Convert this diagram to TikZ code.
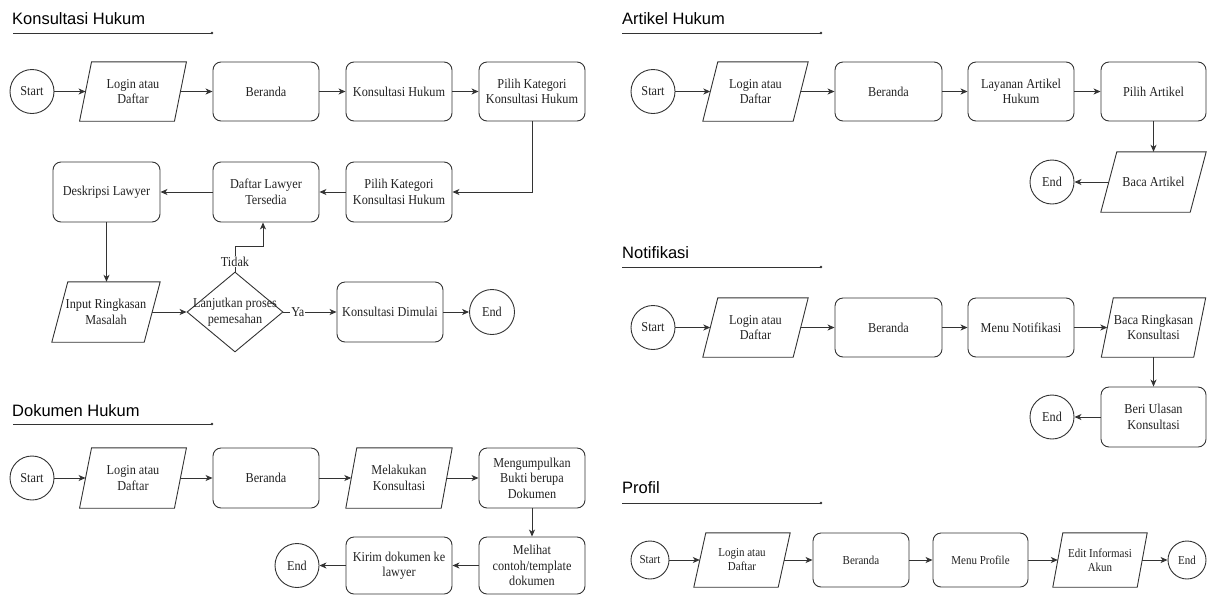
\documentclass[tikz,border=0pt]{standalone}
\usepackage{fontspec}
\setmainfont{Liberation Serif}[FakeStretch=0.9]
\newfontfamily\titlefont{Liberation Sans}
\usetikzlibrary{shapes.geometric,arrows.meta,calc}
\definecolor{ln}{HTML}{333333}
\definecolor{tx}{HTML}{222222}
\tikzset{
  nodefont/.style={font=\fontsize{13.6}{15.5}\selectfont, text=tx},
  smallfont/.style={font=\fontsize{12.2}{14}\selectfont, text=tx},
  base/.style={draw=ln, line width=0.9pt, nodefont, align=center, inner sep=1pt},
  rbox/.style={base, rectangle, rounded corners=8pt, minimum width=106pt, minimum height=59pt},
  circ/.style={base, circle, minimum size=44pt},
  parabox/.style={rectangle, nodefont, align=center, inner sep=1pt, minimum height=59pt},
  decbox/.style={draw=ln, line width=0.9pt, diamond, minimum width=96pt, minimum height=80pt, inner sep=0pt},
  arr/.style={draw=ln, line width=0.9pt, -{Stealth[length=7pt,width=6pt,inset=2pt]}},
  lbl/.style={fill=white, inner sep=1pt, nodefont},
  sectitle/.style={anchor=base west, font=\titlefont\fontsize{16.5}{20}\selectfont, inner sep=0pt, text=black},
  uline/.style={draw=ln, line width=0.9pt},
  paraline/.style={draw=ln, line width=0.9pt}
}
\newcommand\drawpara[2]{\draw[paraline] ($(#1.north west)+(#2/2,0)$) -- ($(#1.north east)+(#2/2,0)$) -- ($(#1.south east)-(#2/2,0)$) -- ($(#1.south west)-(#2/2,0)$) -- cycle;}
\newcommand\secline[2]{\draw[uline] (#1,#2) -- ++(199,0); \fill[ln] (#1+199,#2) circle (1.4);}
\begin{document}
\begin{tikzpicture}[x=1pt,y=-1pt]
\useasboundingbox (0,0) rectangle (1207,595);
% ================= Konsultasi Hukum =================
\node[sectitle] (tK) at (12,24) {Konsultasi Hukum};
\secline{13}{33}
\node[circ] (k1) at (32,91.5) {Start};
\node[parabox, minimum width=94.5pt] (k2) at (133,91.5) {Login atau\\Daftar};
\drawpara{k2}{12}
\node[rbox] (k3) at (266,91.5) {Beranda};
\node[rbox] (k4) at (399,91.5) {Konsultasi Hukum};
\node[rbox] (k5) at (532,91.5) {Pilih Kategori\\Konsultasi Hukum};
\node[rbox, minimum height=60pt] (k6) at (399,192) {Pilih Kategori\\Konsultasi Hukum};
\node[rbox, minimum height=60pt] (k7) at (266,192) {Daftar Lawyer\\Tersedia};
\node[rbox, minimum height=60pt, minimum width=107pt] (k8) at (106.5,192) {Deskripsi Lawyer};
\node[parabox, minimum width=92pt, minimum height=60pt] (k9) at (106,312) {Input Ringkasan\\Masalah};
\drawpara{k9}{16}
\node[decbox] (k10) at (235,312) {};
\node[nodefont, align=center, inner sep=0pt] (k10t) at (235,312) {Lanjutkan proses\\pemesahan};
\node[rbox, minimum height=60pt] (k11) at (390,312) {Konsultasi Dimulai};
\node[circ, minimum size=45pt] (k12) at (492,312) {End};
\draw[arr] (k1) -- (k2);
\draw[arr] (k2) -- (k3);
\draw[arr] (k3) -- (k4);
\draw[arr] (k4) -- (k5);
\draw[arr] (k5.south) |- (k6.east);
\draw[arr] (k6) -- (k7);
\draw[arr] (k7) -- (k8);
\draw[arr] (k8.south) -- (k8.south |- k9.north);
\draw[arr] (k9.east) -- (k10.west);
\draw[arr] (k10.north) -- node[lbl, pos=0.4] (lt) {Tidak} ++(0,-25) -| ($(k7.south)+(-3,0)$);
\draw[arr] (k10.east) -- node[lbl, pos=0.27] (ly) {Ya} (k11.west);
\draw[arr] (k11) -- (k12);
% ================= Dokumen Hukum =================
\node[sectitle] (tD) at (12,416) {Dokumen Hukum};
\secline{13}{424}
\node[circ] (d1) at (32,478) {Start};
\node[parabox, minimum width=94.5pt, minimum height=60pt] (d2) at (133,478) {Login atau\\Daftar};
\drawpara{d2}{12}
\node[rbox, minimum height=60pt] (d3) at (266,478) {Beranda};
\node[parabox, minimum width=95pt, minimum height=60pt] (d4) at (399,478) {Melakukan\\Konsultasi};
\drawpara{d4}{11}
\node[rbox, minimum height=60pt] (d5) at (532,478) {Mengumpulkan\\Bukti berupa\\Dokumen};
\node[rbox, minimum height=57pt] (d6) at (532,565.5) {Melihat\\contoh/template\\dokumen};
\node[rbox, minimum height=57pt] (d7) at (399,565.5) {Kirim dokumen ke\\lawyer};
\node[circ] (d8) at (297,565.5) {End};
\draw[arr] (d1) -- (d2);
\draw[arr] (d2) -- (d3);
\draw[arr] (d3) -- (d4);
\draw[arr] (d4) -- (d5);
\draw[arr] (d5) -- (d6);
\draw[arr] (d6) -- (d7);
\draw[arr] (d7) -- (d8);
% ================= Artikel Hukum =================
\node[sectitle] (tA) at (622,24) {Artikel Hukum};
\secline{622}{33}
\node[circ] (a1) at (653,91.5) {Start};
\node[parabox, minimum width=90pt] (a2) at (755.5,91.5) {Login atau\\Daftar};
\drawpara{a2}{15}
\node[rbox, minimum width=107pt] (a3) at (888.5,91.5) {Beranda};
\node[rbox] (a4) at (1021,91.5) {Layanan Artikel\\Hukum};
\node[rbox, minimum width=105pt] (a5) at (1153.5,91.5) {Pilih Artikel};
\node[parabox, minimum width=89pt, minimum height=60pt] (a6) at (1153.5,182) {Baca Artikel};
\drawpara{a6}{16}
\node[circ] (a7) at (1052,182) {End};
\draw[arr] (a1) -- (a2);
\draw[arr] (a2) -- (a3);
\draw[arr] (a3) -- (a4);
\draw[arr] (a4) -- (a5);
\draw[arr] (a5) -- (a6);
\draw[arr] (a6) -- (a7);
% ================= Notifikasi =================
\node[sectitle] (tN) at (622,258) {Notifikasi};
\secline{622}{267}
\node[circ] (n1) at (653,327.5) {Start};
\node[parabox, minimum width=90pt] (n2) at (755.5,327.5) {Login atau\\Daftar};
\drawpara{n2}{15}
\node[rbox, minimum width=107pt] (n3) at (888.5,327.5) {Beranda};
\node[rbox] (n4) at (1021,327.5) {Menu Notifikasi};
\node[parabox, minimum width=92pt] (n5) at (1153.5,327.5) {Baca Ringkasan\\Konsultasi};
\drawpara{n5}{12}
\node[rbox, minimum width=105pt, minimum height=60pt] (n6) at (1153.5,417) {Beri Ulasan\\Konsultasi};
\node[circ] (n7) at (1052,417) {End};
\draw[arr] (n1) -- (n2);
\draw[arr] (n2) -- (n3);
\draw[arr] (n3) -- (n4);
\draw[arr] (n4) -- (n5);
\draw[arr] (n5) -- (n6);
\draw[arr] (n6) -- (n7);
% ================= Profil =================
\node[sectitle] (tP) at (622,493) {Profil};
\secline{622}{503}
\node[circ, smallfont, minimum size=38pt] (p1) at (650,560) {Start};
\node[parabox, smallfont, minimum width=84pt, minimum height=54pt] (p2) at (742,560) {Login atau\\Daftar};
\drawpara{p2}{12}
\node[rbox, smallfont, minimum width=96pt, minimum height=54pt] (p3) at (861,560) {Beranda};
\node[rbox, smallfont, minimum width=95pt, minimum height=54pt] (p4) at (980.5,560) {Menu Profile};
\node[parabox, smallfont, minimum width=84pt, minimum height=54pt] (p5) at (1100,560) {Edit Informasi\\Akun};
\drawpara{p5}{10}
\node[circ, smallfont, minimum size=38pt] (p6) at (1187,560) {End};
\draw[arr] (p1) -- (p2);
\draw[arr] (p2) -- (p3);
\draw[arr] (p3) -- (p4);
\draw[arr] (p4) -- (p5);
\draw[arr] (p5) -- (p6);
\end{tikzpicture}
\end{document}
